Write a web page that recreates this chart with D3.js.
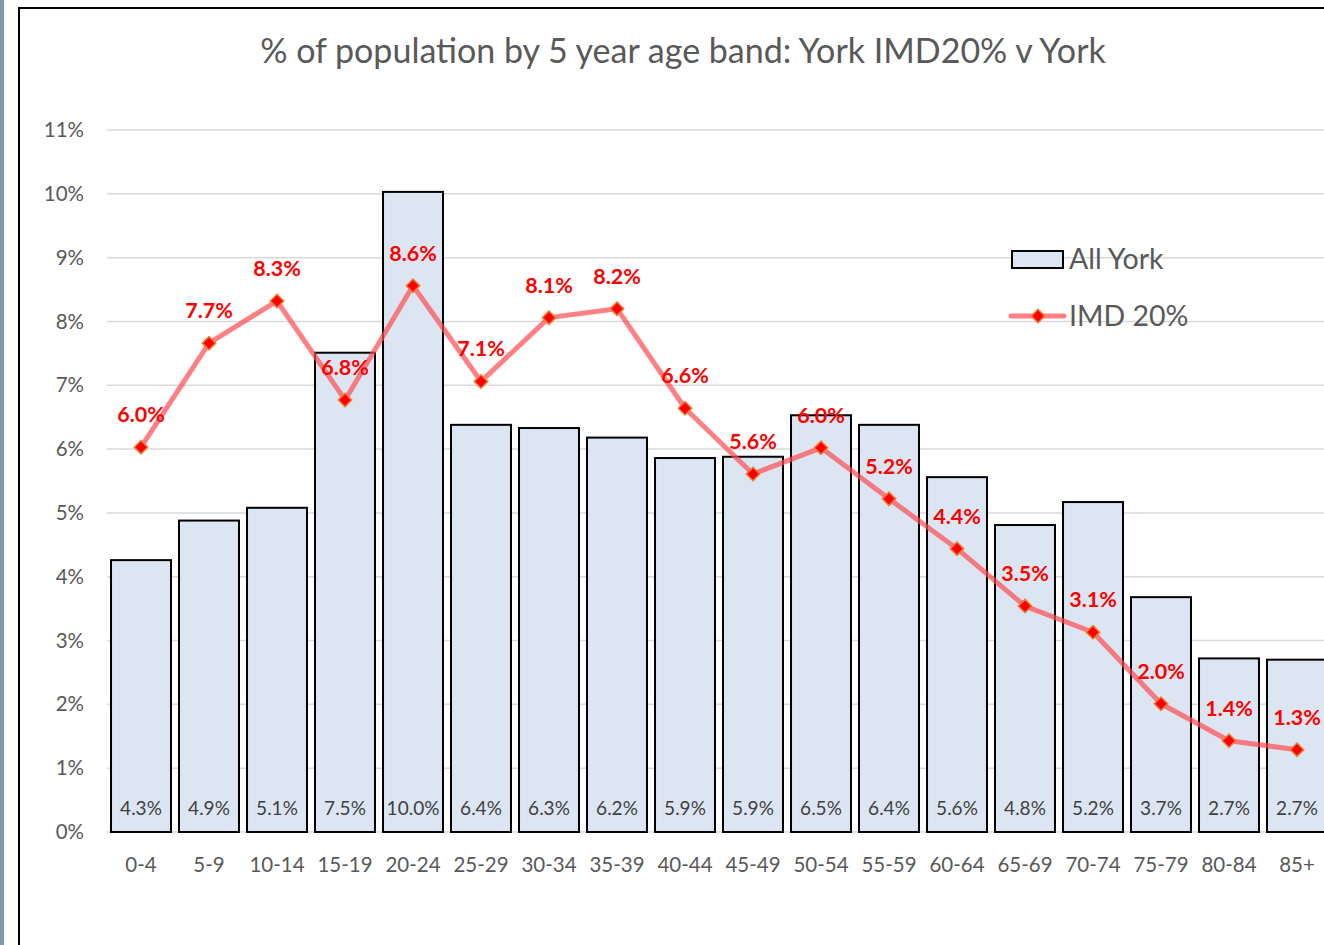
<!DOCTYPE html>
<html>
<head>
<meta charset="utf-8">
<script src="https://cdn.jsdelivr.net/npm/d3@7"></script>
<style>
  body { margin: 0; background: #fff; overflow: hidden; }
  text { font-family: Lato, "Open Sans", sans-serif; }
</style>
</head>
<body>
<div id="chart"></div>
<script>
var ageBands = ["0-4", "5-9", "10-14", "15-19", "20-24", "25-29", "30-34", "35-39", "40-44",
                "45-49", "50-54", "55-59", "60-64", "65-69", "70-74", "75-79", "80-84", "85+"];
var allYork = [4.26, 4.88, 5.08, 7.51, 10.03, 6.38, 6.33, 6.18, 5.86,
               5.88, 6.53, 6.38, 5.56, 4.81, 5.17, 3.68, 2.72, 2.70];
var imd20 = [6.03, 7.66, 8.32, 6.77, 8.56, 7.06, 8.06, 8.20, 6.64,
             5.61, 6.02, 5.22, 4.44, 3.54, 3.13, 2.01, 1.43, 1.29];
var yTicks = [0, 1, 2, 3, 4, 5, 6, 7, 8, 9, 10, 11];

var width = 1324;
var height = 945;

var svg = d3.select("#chart")
  .append("svg")
    .attr("width", width)
    .attr("height", height);

// side strip and chart frame
svg.append("rect")
    .attr("x", 0).attr("y", 0).attr("width", 4).attr("height", height)
    .attr("fill", "#8497b0");
svg.append("rect")
    .attr("x", 19).attr("y", 8).attr("width", 1400).attr("height", 1000)
    .attr("fill", "#fff").attr("stroke", "#000").attr("stroke-width", 2);

var x = d3.scaleBand()
  .domain(ageBands)
  .range([107, 1331])
  .paddingInner(0.118)
  .paddingOuter(0.059);

var y = d3.scaleLinear()
  .domain([0, 11])
  .range([832, 130]);

// title
svg.append("text")
    .attr("x", 683).attr("y", 63)
    .attr("text-anchor", "middle")
    .attr("fill", "#595959")
    .style("font-size", "34px")
    .text("% of population by 5 year age band: York IMD20% v York");

// gridlines
svg.append("g")
  .selectAll("line")
  .data(yTicks)
  .enter()
  .append("line")
    .attr("x1", 107).attr("x2", 1331)
    .attr("y1", function(d){ return y(d); })
    .attr("y2", function(d){ return y(d); })
    .attr("stroke", "#d9d9d9")
    .attr("stroke-width", 1.5);

// y axis labels
var yAxis = svg.append("g")
    .attr("transform", "translate(107,0)")
    .call(d3.axisLeft(y).tickValues(yTicks).tickSize(0).tickPadding(23)
      .tickFormat(function(d){ return d + "%"; }));
yAxis.select(".domain").remove();
yAxis.selectAll("text")
    .attr("fill", "#595959")
    .style("font-size", "20.5px")
    .style("font-family", "Lato, sans-serif");

// x axis labels
var xAxis = svg.append("g")
    .attr("transform", "translate(0,832)")
    .call(d3.axisBottom(x).tickSize(0).tickPadding(25));
xAxis.select(".domain").remove();
xAxis.selectAll("text")
    .attr("fill", "#595959")
    .style("font-size", "20.5px")
    .style("font-family", "Lato, sans-serif");

var data = ageBands.map(function(a, i){ return {band: a, york: allYork[i], imd: imd20[i]}; });

// bars
svg.append("g")
  .selectAll("rect")
  .data(data)
  .enter()
  .append("rect")
    .attr("x", function(d){ return x(d.band); })
    .attr("y", function(d){ return y(d.york); })
    .attr("width", x.bandwidth())
    .attr("height", function(d){ return y(0) - y(d.york); })
    .attr("fill", "#dce6f2")
    .attr("stroke", "#000")
    .attr("stroke-width", 2);

// bar value labels
svg.append("g")
  .selectAll("text")
  .data(data)
  .enter()
  .append("text")
    .attr("x", function(d){ return x(d.band) + x.bandwidth() / 2; })
    .attr("y", 815)
    .attr("text-anchor", "middle")
    .attr("fill", "#404040")
    .style("font-size", "19px")
    .text(function(d){ return d.york.toFixed(1) + "%"; });

// IMD line
var line = d3.line()
  .x(function(d){ return x(d.band) + x.bandwidth() / 2; })
  .y(function(d){ return y(d.imd); });

svg.append("path")
    .datum(data)
    .attr("d", line)
    .attr("fill", "none")
    .attr("stroke", "#ff4a50")
    .attr("stroke-opacity", 0.7)
    .attr("stroke-width", 5)
    .attr("stroke-linejoin", "round");

var diamond = d3.symbol().type(d3.symbolDiamond2).size(115);

svg.append("g")
  .selectAll("path")
  .data(data)
  .enter()
  .append("path")
    .attr("d", diamond)
    .attr("transform", function(d){ return "translate(" + (x(d.band) + x.bandwidth() / 2) + "," + y(d.imd) + ")"; })
    .attr("fill", "#ff0000")
    .attr("stroke", "#ed7d31")
    .attr("stroke-width", 1.5);

svg.append("g")
  .selectAll("text")
  .data(data)
  .enter()
  .append("text")
    .attr("x", function(d){ return x(d.band) + x.bandwidth() / 2; })
    .attr("y", function(d){ return y(d.imd) - 25; })
    .attr("text-anchor", "middle")
    .attr("fill", "#ff0000")
    .style("font-size", "21.5px")
    .style("font-weight", "bold")
    .text(function(d){ return d.imd.toFixed(1) + "%"; });

// legend
var legend = svg.append("g");
legend.append("rect")
    .attr("x", 1012).attr("y", 251).attr("width", 51).attr("height", 17)
    .attr("fill", "#dce6f2").attr("stroke", "#000").attr("stroke-width", 2);
legend.append("text")
    .attr("x", 1069).attr("y", 269)
    .attr("fill", "#595959")
    .style("font-size", "28.5px")
    .text("All York");
legend.append("line")
    .attr("x1", 1011).attr("x2", 1064).attr("y1", 316).attr("y2", 316)
    .attr("stroke", "#ff4a50").attr("stroke-opacity", 0.7)
    .attr("stroke-width", 5).attr("stroke-linecap", "round");
legend.append("path")
    .attr("d", diamond)
    .attr("transform", "translate(1038,316)")
    .attr("fill", "#ff0000")
    .attr("stroke", "#ed7d31")
    .attr("stroke-width", 1.5);
legend.append("text")
    .attr("x", 1069).attr("y", 326)
    .attr("fill", "#595959")
    .style("font-size", "28.5px")
    .text("IMD 20%");
</script>
</body>
</html>
